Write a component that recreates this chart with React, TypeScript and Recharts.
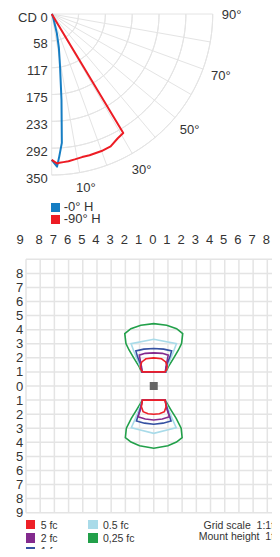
import React from "react";
import {
  RadarChart,
  PolarGrid,
  PolarAngleAxis,
  PolarRadiusAxis,
  Radar,
  Legend,
  ComposedChart,
  CartesianGrid,
  XAxis,
  YAxis,
  Line,
  Scatter,
} from "recharts";

const FONT = '"Liberation Sans", Arial, sans-serif';
const TEXT = "#333";
const GRID = "#e4e4e4";

// candela curve, angle from nadir (deg) -> cd
const angles = [0, 2, 3, 4.5, 6.5, 9, 12, 15, 20, 24, 28, 31, 33, 40, 50, 60, 70, 80, 90];
const cd0H = [317, 332, 311, 281, 188, 116, 75, 43, 12, 6, 4, 3, 2, 0, 0, 0, 0, 0, 0];
const cd90H = [317, 325, 324, 323, 322, 320, 318, 318, 317, 315, 306, 302, 0, 0, 0, 0, 0, 0, 0];
const cdTicks = [0, 58.33, 116.67, 175, 233.33, 291.67, 350];
const angleTicks = [0, 10, 20, 30, 40, 50, 60, 70, 80, 90];
const angleLabels = [10, 30, 50, 70, 90];

// isolux grid, feet
const gridTicks = [-9, -8, -7, -6, -5, -4, -3, -2, -1, 0, 1, 2, 3, 4, 5, 6, 7, 8, 9];
const luminaire = [{ x: 0, y: 0 }];

const fc5Top: [number, number][] = [
  [-0.79, 1.0], [-0.91, 1.17], [-0.95, 1.41], [-0.84, 1.71], [-0.55, 1.93], [0, 2.0],
  [0.55, 1.93], [0.84, 1.71], [0.95, 1.41], [0.91, 1.17], [0.79, 1.0],
];
const fc5Bottom: [number, number][] = [
  [-0.8, -1.0], [-0.87, -1.47], [-0.75, -1.82], [-0.4, -1.97], [0, -2.01],
  [0.4, -1.97], [0.75, -1.82], [0.87, -1.47], [0.8, -1.0],
];
const fc2Top: [number, number][] = [
  [-0.82, 1.0], [-0.86, 1.36], [-0.95, 1.83], [-1.02, 2.19], [-0.6, 2.32], [0, 2.35],
  [0.6, 2.32], [1.02, 2.19], [0.95, 1.83], [0.86, 1.36], [0.82, 1.0],
];
const fc2Bottom: [number, number][] = [
  [-0.8, -1.0], [-0.95, -1.7], [-1.11, -2.18], [-0.6, -2.35], [0, -2.41],
  [0.6, -2.35], [1.11, -2.18], [0.95, -1.7], [0.8, -1.0],
];
const fc1Top: [number, number][] = [
  [-0.84, 1.0], [-0.84, 1.13], [-0.95, 1.6], [-1.14, 2.07], [-1.26, 2.49], [-0.7, 2.62], [0, 2.66],
  [0.7, 2.62], [1.26, 2.49], [1.14, 2.07], [0.95, 1.6], [0.84, 1.13], [0.84, 1.0],
];
const fc1Bottom: [number, number][] = [
  [-0.8, -1.0], [-0.9, -1.45], [-1.04, -1.94], [-1.22, -2.48], [-0.65, -2.64], [0, -2.72],
  [0.65, -2.64], [1.22, -2.48], [1.04, -1.94], [0.9, -1.45], [0.8, -1.0],
];
const fcHalfTop: [number, number][] = [
  [-0.86, 1.0], [-0.91, 1.24], [-1.14, 1.83], [-1.38, 2.42], [-1.6, 3.01], [0, 3.32],
  [1.6, 3.01], [1.38, 2.42], [1.14, 1.83], [0.91, 1.24], [0.86, 1.0],
];
const fcHalfBottom: [number, number][] = [
  [-0.8, -1.0], [-1.0, -1.59], [-1.29, -2.3], [-1.58, -2.96], [0, -3.36],
  [1.58, -2.96], [1.29, -2.3], [1.0, -1.59], [0.8, -1.0],
];
const fcQuarterTop: [number, number][] = [
  [-0.86, 1.0], [-1.02, 1.36], [-1.38, 1.95], [-1.73, 2.54], [-1.96, 3.01], [-2.04, 3.72],
  [-1.61, 4.07], [-0.91, 4.31], [0, 4.43], [0.91, 4.31], [1.61, 4.07], [2.04, 3.72],
  [1.96, 3.01], [1.73, 2.54], [1.38, 1.95], [1.02, 1.36], [0.86, 1.0],
];
const fcQuarterBottom: [number, number][] = [
  [-0.8, -1.0], [-1.22, -1.71], [-1.58, -2.3], [-1.93, -3.0], [-2.0, -3.66], [-1.6, -3.98],
  [-1.0, -4.25], [0, -4.42], [1.0, -4.25], [1.6, -3.98], [2.0, -3.66], [1.93, -3.0],
  [1.58, -2.3], [1.22, -1.71], [0.8, -1.0],
];

const levelNames = ["0,25 fc", "0.5 fc", "1 fc", "2 fc", "5 fc"];
const levelColors = ["#22a04a", "#a9dbe9", "#3551a2", "#832a8e", "#ee2028"];
const levelTops = [fcQuarterTop, fcHalfTop, fc1Top, fc2Top, fc5Top];
const levelBottoms = [fcQuarterBottom, fcHalfBottom, fc1Bottom, fc2Bottom, fc5Bottom];
const legendColumns = [["5 fc", "2 fc", "1 fc"], ["0.5 fc", "0,25 fc"]];

const polarRows = angles.map((a, i) => ({ angle: a, h0: cd0H[i], h90: cd90H[i] }));

const toPts = (arr: [number, number][]) => arr.map(([x, y]) => ({ x, y }));
const contourData = levelNames.map((_, i) => [
  ...toPts(levelTops[i]),
  { x: 0, y: null },
  ...toPts(levelBottoms[i]),
]);

// one sweep out and back so the closing segment has no length
const sweep = Array.from({ length: 91 }, (_, i) => -90 + i);
const arcAngles = [...sweep, ...sweep.slice().reverse()];

const OpenCurve = (props: any) => {
  const pts = (props.points || []).filter((p: any) => Number.isFinite(p.x) && Number.isFinite(p.y));
  return (
    <polyline
      points={pts.map((p: any) => `${p.x},${p.y}`).join(" ")}
      fill="none"
      stroke={props.stroke}
      strokeWidth={props.strokeWidth}
      strokeLinejoin="round"
    />
  );
};

const AngleTick = ({ x, y, payload }: any) => {
  if (!angleLabels.includes(payload.value)) return <g />;
  const nudge = payload.value === 10 ? [3, -4] : [0, 0];
  return (
    <text x={x + nudge[0]} y={y + nudge[1]} dy="0.35em" textAnchor="middle" fontSize={13} fill={TEXT} fontFamily={FONT}>
      {`${payload.value}°`}
    </text>
  );
};

const RadiusTick = ({ x, y, payload }: any) => (
  <text x={x - 4} y={y + 3} dy="0.35em" textAnchor="end" fontSize={13} fill={TEXT} fontFamily={FONT}>
    {payload.value === 0 ? "CD 0" : Math.round(payload.value)}
  </text>
);

const GridXTick = ({ x, y, payload }: any) => (
  <text x={x + (payload.value === -9 ? -6 : -1)} y={y - 7} textAnchor="middle" fontSize={13} fill={TEXT} fontFamily={FONT}>
    {Math.abs(payload.value)}
  </text>
);

const GridYTick = ({ x, y, payload }: any) =>
  payload.value === 9 ? (
    <g />
  ) : (
    <text x={x + 5.3} y={y} dy="0.35em" textAnchor="end" fontSize={13} fill={TEXT} fontFamily={FONT}>
      {Math.abs(payload.value)}
    </text>
  );

const ContourLegend = ({ payload }: any) => {
  const colorOf = (name: string) => (payload || []).find((p: any) => p.value === name)?.color;
  return (
    <div style={{ position: "relative", width: 251, height: 40, fontSize: 10.5, color: TEXT, fontFamily: FONT }}>
      {legendColumns.map((col, ci) => (
        <div key={ci} style={{ position: "absolute", left: ci * 62.3, top: 0 }}>
          {col.map((name) => (
            <div key={name} style={{ display: "flex", alignItems: "center", height: 13.3 }}>
              <span style={{ width: 9.3, height: 9.3, background: colorOf(name), marginRight: 5.4 }} />
              <span>{name}</span>
            </div>
          ))}
        </div>
      ))}
      <div style={{ position: "absolute", right: 0, top: 1.9, textAlign: "right", lineHeight: "11.6px", whiteSpace: "pre" }}>
        <div>Grid scale  1:1ft</div>
        <div>Mount height  1ft</div>
      </div>
    </div>
  );
};

export default function App() {
  return (
    <div style={{ width: 272, overflow: "hidden", marginBottom: -8, fontFamily: FONT }}>
      <RadarChart
        width={272}
        height={220}
        data={polarRows}
        cx={43.7}
        cy={6}
        outerRadius={161}
        startAngle={-90}
        endAngle={0}
        margin={{ top: 0, right: 0, bottom: 0, left: 0 }}
      >
        <PolarGrid gridType="polygon" polarRadius={[]} stroke={GRID} />
        <PolarGrid gridType="polygon" radialLines={false} polarAngles={arcAngles} stroke={GRID} />
        <PolarAngleAxis
          dataKey="angle"
          type="number"
          domain={[0, 90]}
          ticks={angleTicks}
          tickCount={10}
          axisLine={false}
          tickLine={false}
          tickSize={19}
          tick={AngleTick}
        />
        <PolarRadiusAxis
          angle={-90}
          type="number"
          domain={[0, 350]}
          ticks={cdTicks}
          axisLine={false}
          tick={RadiusTick}
        />
        <Radar
          name="-0° H"
          dataKey="h0"
          stroke="#157dc3"
          strokeWidth={2}
          fill="none"
          shape={OpenCurve}
          isAnimationActive={false}
        />
        <Radar
          name="-90° H"
          dataKey="h90"
          stroke="#ed1c24"
          strokeWidth={2}
          fill="none"
          shape={OpenCurve}
          isAnimationActive={false}
        />
        <Legend
          layout="vertical"
          align="center"
          verticalAlign="middle"
          iconType="square"
          iconSize={9}
          wrapperStyle={{ left: 42.7, top: 192.5, width: "auto", lineHeight: "12.3px", fontSize: 13 }}
          formatter={(v: string) => <span style={{ color: TEXT }}>{v}</span>}
        />
      </RadarChart>
      <ComposedChart width={285} height={329} margin={{ top: 0, right: 11.5, bottom: 44.3, left: 0 }}>
        <CartesianGrid stroke={GRID} strokeWidth={1.5} />
        <XAxis
          type="number"
          dataKey="x"
          orientation="top"
          domain={[-9, 9]}
          ticks={gridTicks}
          interval={0}
          height={31.3}
          axisLine={false}
          tickLine={false}
          allowDataOverflow
          tick={GridXTick}
        />
        <YAxis
          type="number"
          dataKey="y"
          domain={[-9, 9]}
          ticks={gridTicks}
          interval={0}
          width={18}
          axisLine={false}
          tickLine={false}
          allowDataOverflow
          tick={GridYTick}
        />
        {levelNames.map((name, i) => (
          <Line
            key={name}
            name={name}
            data={contourData[i]}
            dataKey="y"
            type="linearClosed"
            stroke={levelColors[i]}
            strokeWidth={1.6}
            dot={false}
            activeDot={false}
            isAnimationActive={false}
          />
        ))}
        <Scatter data={luminaire} dataKey="y" shape="square" fill="#666" legendType="none" isAnimationActive={false} />
        <Legend
          layout="vertical"
          align="center"
          verticalAlign="middle"
          wrapperStyle={{ left: 18, top: 290, width: 251, height: 40 }}
          content={ContourLegend}
        />
      </ComposedChart>
    </div>
  );
}
